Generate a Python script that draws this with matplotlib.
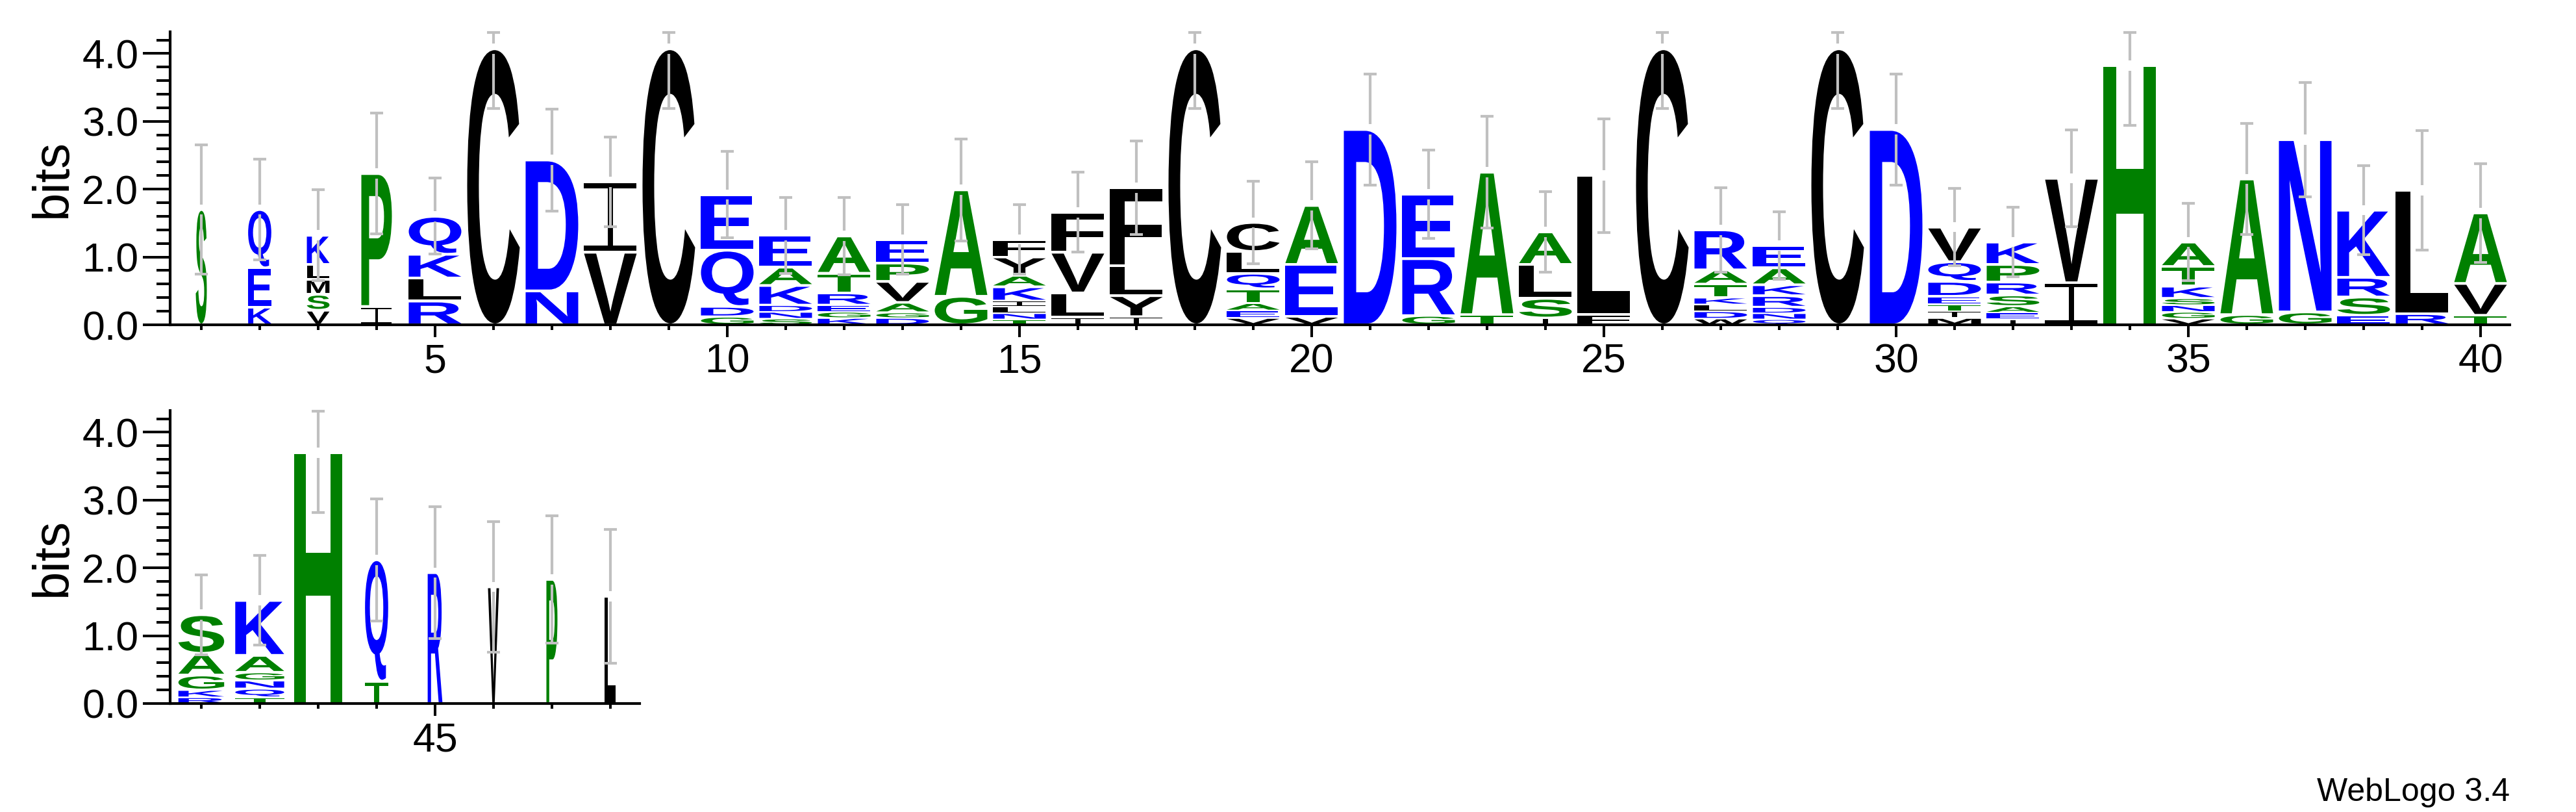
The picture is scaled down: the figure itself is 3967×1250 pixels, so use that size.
import matplotlib
matplotlib.use("Agg")
import matplotlib.pyplot as plt
from matplotlib.textpath import TextPath
from matplotlib.patches import PathPatch
from matplotlib.path import Path
from matplotlib.transforms import Affine2D
from matplotlib.font_manager import FontProperties
from matplotlib.ticker import FixedLocator, MultipleLocator

plt.rcParams['font.family'] = ['Liberation Sans', 'DejaVu Sans']

# ---------------- data ----------------
positions = list(range(1, 49))

# letters of each stack, bottom to top
stack_letters = [
    "S", "KEQ", "VSMLK", "IP", "RLKQ", "C", "ND", "VI", "C", "GDQE",
    "SNDKAE", "KGERTA", "DGAVPE", "GA", "TNLIKAYF", "ILVF", "IYLF", "C", "VEATQLC", "VEA",
    "D", "GRE", "TA", "ISLA", "FL", "C", "WDLKTAR", "QNDRKAE", "C", "D",
    "MITEDQV", "IEASRPK", "IV", "H", "VGNSKTA", "GA", "GN", "ESRK", "RL", "TVA",
    "RKGAS", "TQNGAK", "H", "TQ", "R", "V", "P", "L",
]

# height (bits) of each letter, bottom to top
letter_heights = [
    [1.70], [0.26, 0.58, 0.86], [0.215, 0.235, 0.22, 0.22, 0.43], [0.27, 1.96],
    [0.35, 0.34, 0.35, 0.56], [4.07], [0.50, 1.93], [1.07, 1.04], [4.07],
    [0.12, 0.15, 0.83, 0.82],
    [0.09, 0.10, 0.10, 0.29, 0.27, 0.47], [0.10, 0.09, 0.10, 0.18, 0.29, 0.55],
    [0.10, 0.08, 0.15, 0.31, 0.27, 0.35], [0.42, 1.57],
    [0.08, 0.09, 0.10, 0.08, 0.21, 0.17, 0.27, 0.26], [0.11, 0.36, 0.60, 0.59],
    [0.12, 0.31, 0.44, 1.15], [4.07], [0.10, 0.11, 0.11, 0.21, 0.23, 0.32, 0.43],
    [0.12, 0.77, 0.87],
    [2.88], [0.135, 0.84, 0.95], [0.15, 2.10], [0.10, 0.29, 0.50, 0.48], [0.15, 2.05],
    [4.07], [0.09, 0.11, 0.10, 0.10, 0.20, 0.21, 0.59],
    [0.08, 0.09, 0.09, 0.17, 0.16, 0.25, 0.33], [4.07], [2.88],
    [0.10, 0.10, 0.10, 0.12, 0.22, 0.29, 0.51], [0.08, 0.10, 0.09, 0.17, 0.19, 0.26, 0.33],
    [0.62, 1.54], [3.82], [0.09, 0.10, 0.10, 0.10, 0.18, 0.29, 0.36], [0.15, 2.00],
    [0.19, 2.54], [0.14, 0.27, 0.29, 0.99], [0.165, 1.82], [0.14, 0.47, 1.04],
    [0.09, 0.11, 0.22, 0.32, 0.57], [0.09, 0.13, 0.12, 0.12, 0.25, 0.81], [3.70],
    [0.33, 1.79], [1.93], [1.72], [1.83], [1.58],
]

# error bar half-length (bits)
error_bits = [
    0.95, 0.74, 0.67, 0.89, 0.56, 0.88, 0.75, 0.66, 0.88, 0.64,
    0.56, 0.57, 0.51, 0.75, 0.51, 0.59, 0.69, 0.88, 0.61, 0.64,
    0.82, 0.65, 0.82, 0.59, 0.84, 0.88, 0.62, 0.50, 0.88, 0.82,
    0.57, 0.51, 0.71, 0.88, 0.57, 0.82, 0.84, 0.66, 0.88, 0.73,
    0.59, 0.66, 0.88, 0.90, 0.97, 0.96, 0.94, 0.99,
]

# relative stack width (fraction of non-gap sequences)
stack_widths = [
    0.21, 0.44, 0.43, 0.58] + [1.0] * 36 + [
    0.87, 0.93, 0.92, 0.44, 0.28, 0.21, 0.21, 0.21,
]

row1_ticks = [5, 10, 15, 20, 25, 30, 35, 40]
row2_ticks = [45]
y_ticks = [0.0, 1.0, 2.0, 3.0, 4.0]

# ---------------- style ----------------
BLUE, GREEN, BLACK = "#0000ff", "#008000", "#000000"
colour_of = {}
for c in "RKDENQ":
    colour_of[c] = BLUE
for c in "SGHTAP":
    colour_of[c] = GREEN
for c in "YVMCLFIWX":
    colour_of[c] = BLACK

fp_main = FontProperties(family="Liberation Sans", weight="bold")
glyph_cache = {}


def serif_i_path():
    # WebLogo-style "I" with thin stem and serif bars, in a unit box
    t, s = 0.08, 0.10
    a, b = 0.5 - s / 2, 0.5 + s / 2
    verts = [(0, 0), (1, 0), (1, t), (b, t), (b, 1 - t), (1, 1 - t), (1, 1),
             (0, 1), (0, 1 - t), (a, 1 - t), (a, t), (0, t), (0, 0)]
    codes = [Path.MOVETO] + [Path.LINETO] * 11 + [Path.CLOSEPOLY]
    return Path(verts, codes)


def glyph(ch):
    if ch not in glyph_cache:
        if ch == "I":
            glyph_cache[ch] = serif_i_path()
        else:
            glyph_cache[ch] = TextPath((0, 0), ch, size=1, prop=fp_main)
    return glyph_cache[ch]


def draw_letter(ax, ch, xc, y0, w, h):
    tp = glyph(ch)
    bb = tp.get_extents()
    pad = min(0.02, 0.12 * h)
    hh = h - 2 * pad
    t = (Affine2D().translate(-bb.x0, -bb.y0)
         .scale(w / bb.width, hh / bb.height)
         .translate(xc - w / 2, y0 + pad))
    ax.add_patch(PathPatch(t.transform_path(tp), fc=colour_of[ch], ec="none", lw=0, zorder=2))


YMAX = 4.32
FULLW = 0.9
GAP = 0.075
CAPW = 0.115
ERRC = "#c0c0c0"
ERRLW = 3.0


def draw_errorbar(ax, x, top, err):
    hi = min(top + err, 4.31)
    lo = top - err
    kw = dict(color=ERRC, lw=ERRLW, zorder=3, clip_on=False, solid_capstyle="butt")
    ax.plot([x, x], [top + GAP, hi], **kw)
    ax.plot([x, x], [lo, top - GAP], **kw)
    ax.plot([x - CAPW, x + CAPW], [hi, hi], **kw)
    ax.plot([x - CAPW, x + CAPW], [lo, lo], **kw)


W, H = 3967, 1250
fig = plt.figure(figsize=(W / 100, H / 100), dpi=100)

ax1 = fig.add_axes([262 / W, 0.6, (3865 - 262) / W, YMAX * 104.4 / H])
ax2 = fig.add_axes([262 / W, 167 / H, 8.033 * 90 / W, YMAX * 104.4 / H])

for ax, lo_pos, hi_pos, ticks in [(ax1, 1, 40, row1_ticks), (ax2, 41, 48, row2_ticks)]:
    for i in range(lo_pos - 1, hi_pos):
        x = positions[i]
        w = FULLW * stack_widths[i]
        y = 0.0
        for ch, h in zip(stack_letters[i], letter_heights[i]):
            draw_letter(ax, ch, x, y, w, h)
            y += h
        draw_errorbar(ax, x, y, error_bits[i])

    ax.set_xlim(lo_pos - 0.533, hi_pos + 0.5)
    ax.set_ylim(0, YMAX)
    for s in ("top", "right"):
        ax.spines[s].set_visible(False)
    for s in ("left", "bottom"):
        ax.spines[s].set_linewidth(3)
    ax.xaxis.set_major_locator(FixedLocator(ticks))
    ax.xaxis.set_minor_locator(FixedLocator(positions[lo_pos - 1:hi_pos]))
    ax.set_xticklabels([str(t) for t in ticks])
    ax.yaxis.set_major_locator(FixedLocator(y_ticks))
    ax.yaxis.set_minor_locator(MultipleLocator(0.2))
    ax.set_yticklabels(["%.1f" % v for v in y_ticks])
    ax.tick_params(axis="y", which="major", direction="out", length=30, width=2.9,
                   labelsize=45, pad=5)
    ax.tick_params(axis="y", which="minor", direction="out", length=15, width=2.9)
    ax.tick_params(axis="x", which="major", direction="out", length=14, width=2.9,
                   labelsize=45, pad=6)
    ax.tick_params(axis="x", which="minor", direction="out", length=6, width=2.9)
    ax.set_ylabel("bits", fontsize=56, labelpad=6)

fig.text(3865 / W, 17 / H, "WebLogo 3.4", ha="right", va="baseline", fontsize=36)

fig.savefig("out.png", dpi=100)
